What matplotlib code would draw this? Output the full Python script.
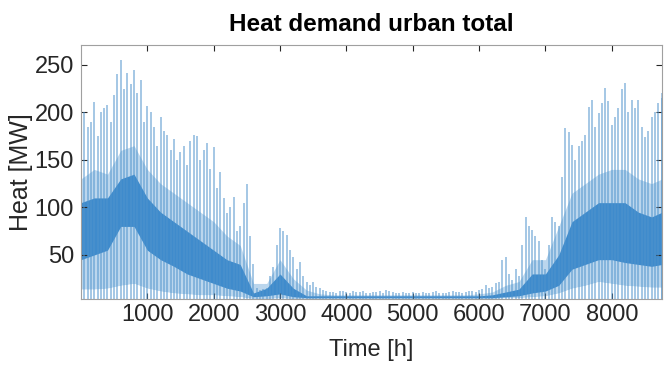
import matplotlib
matplotlib.use('Agg')
import matplotlib.pyplot as plt

# tall spikes, read every 100 h
peak_hours = list(range(0, 8800, 100)) + [8760]
peak_vals = [218, 185, 211, 200, 208, 218, 255, 241, 245, 234,
             207, 185, 195, 176, 172, 158, 145, 176, 150, 168,
             164, 137, 94, 111, 80, 125, 40, 13, 15, 37,
             78, 71, 48, 43, 22, 22, 15, 12, 11, 12,
             11, 12, 11, 10, 11, 12, 13, 11, 10, 10,
             11, 10, 10, 11, 10, 10, 12, 11, 11, 12,
             13, 18, 16, 22, 48, 24, 28, 90, 76, 65,
             35, 90, 80, 184, 166, 165, 176, 213, 199, 226,
             187, 205, 231, 213, 213, 174, 195, 210, 220]

# spikes in between, read at 50, 150, ... h
mid_hours = list(range(50, 8800, 100))
mid_vals = [200, 190, 175, 205, 190, 240, 225, 230, 220, 190,
            200, 165, 180, 160, 150, 165, 170, 175, 160, 140,
            120, 110, 100, 75, 105, 70, 15, 14, 28, 60,
            75, 55, 35, 28, 18, 16, 13, 11, 10, 12,
            10, 11, 12, 10, 11, 10, 12, 10, 11, 10,
            10, 11, 10, 12, 10, 11, 11, 10, 12, 11,
            14, 15, 20, 45, 30, 35, 60, 80, 70, 45,
            60, 85, 132, 179, 150, 170, 206, 185, 210, 212,
            195, 225, 200, 205, 185, 180, 200, 215]

# dense band and lower envelope, read every 200 h
band_hours = list(range(0, 8800, 200)) + [8760]
medium_top = [130, 140, 135, 160, 165, 140, 125, 115, 105, 95,
              85, 70, 60, 20, 20, 45, 25, 13, 9, 8,
              8, 8, 8, 8, 8, 8, 8, 8, 8, 8,
              9, 11, 18, 22, 45, 45, 80, 115, 125, 135,
              140, 140, 130, 125, 130]
dark_top = [105, 110, 110, 130, 135, 110, 95, 85, 75, 65,
            55, 45, 40, 10, 15, 30, 15, 7, 7, 7,
            7, 7, 7, 7, 7, 7, 7, 7, 7, 7,
            7, 8, 11, 14, 30, 30, 50, 85, 95, 105,
            105, 105, 95, 90, 95]
dark_bot = [45, 50, 55, 80, 80, 55, 45, 38, 30, 25,
            20, 15, 12, 6, 7, 9, 6, 5, 5, 5,
            5, 5, 5, 5, 5, 5, 5, 5, 5, 5,
            5, 5, 6, 7, 10, 12, 18, 35, 40, 45,
            45, 42, 40, 38, 40]
low_vals = [14, 14, 15, 18, 20, 15, 12, 10, 9, 8,
            8, 7, 6, 4, 4, 5, 4, 4, 4, 4,
            4, 4, 4, 4, 4, 4, 4, 4, 4, 4,
            4, 4, 5, 5, 6, 7, 10, 15, 18, 22,
            20, 18, 17, 16, 16]

plt.rcParams['font.family'] = ['Liberation Sans', 'DejaVu Sans']
fig = plt.figure(figsize=(6.65, 3.65), dpi=100)
ax = fig.add_axes([0.1218, 0.181, 0.874, 0.696])

ax.fill_between(band_hours, low_vals, medium_top, color='#3d8cce', alpha=0.35, lw=0)
ax.vlines(peak_hours, 0, peak_vals, color='#4f93cc', lw=1.2, alpha=0.6)
ax.vlines(mid_hours, 0, mid_vals, color='#4f93cc', lw=1.2, alpha=0.6)
ax.fill_between(band_hours, dark_bot, dark_top, color='#0a6cbf', alpha=0.7, lw=0)
ax.fill_between(band_hours, 0, low_vals, color='white', lw=0)

ax.set_xlim(1, 8760)
ax.set_ylim(3.7, 271)
ax.set_xticks(range(1000, 9000, 1000))
ax.set_yticks([50, 100, 150, 200, 250])
ax.tick_params(direction='in', top=True, right=True, length=4, labelsize=17,
               colors='#262626', width=0.8)
ax.tick_params(axis='x', pad=4)
ax.tick_params(axis='y', pad=5)
for s in ax.spines.values():
    s.set_color('#a0a0a0')
    s.set_linewidth(0.8)
ax.set_title('Heat demand urban total', fontsize=17.5, fontweight='bold', pad=10)
ax.set_xlabel('Time [h]', fontsize=17, color='#262626', labelpad=9)
ax.set_ylabel('Heat [MW]', fontsize=18, color='#262626', labelpad=1)

fig.savefig('out.png', dpi=100)
